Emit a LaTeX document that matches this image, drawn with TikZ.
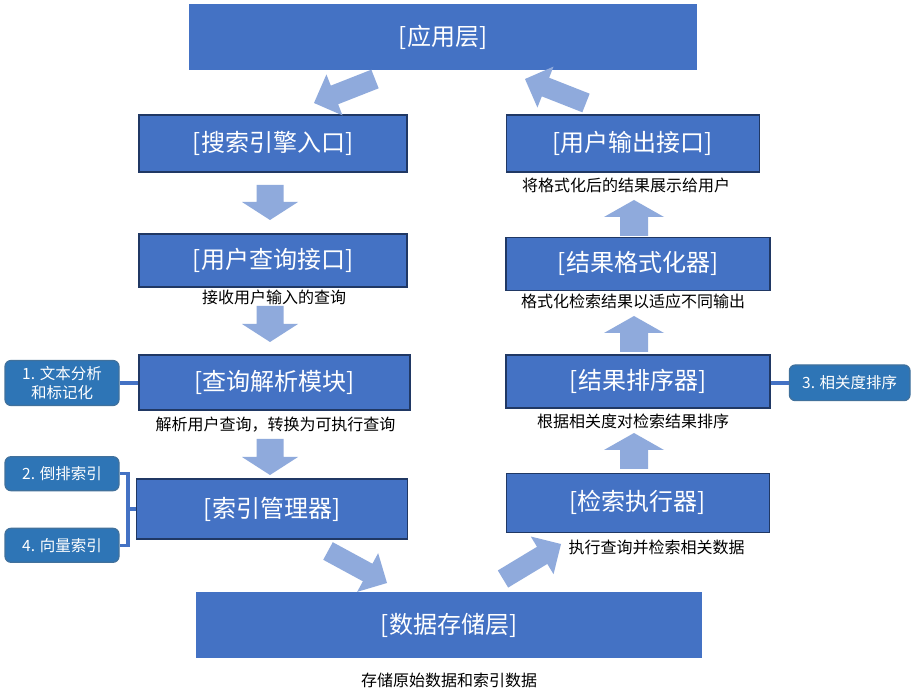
\documentclass[tikz,border=0pt]{standalone}
\usepackage{fontspec}
\setmainfont{Noto Sans CJK SC}
\usetikzlibrary{calc}
\definecolor{boxblue}{HTML}{4472C4}
\definecolor{boxedge}{HTML}{203864}
\definecolor{sideblue}{HTML}{2E75B6}
\definecolor{sideedge}{HTML}{41719C}
\definecolor{arrowblue}{HTML}{8FAADC}
% fat block arrow: tail, tip, shaft half width, head half width, head length
\newcommand\fatarrow[5]{%
  \coordinate (faB) at ($(#2)!#5!(#1)$);
  \fill[fatarrowstyle] ($(#1)!#3!90:(#2)$) -- ($(faB)!#3!-90:(#1)$) -- ($(faB)!#4!-90:(#1)$) -- (#2)
    -- ($(faB)!#4!90:(#1)$) -- ($(faB)!#3!90:(#1)$) -- ($(#1)!#3!-90:(#2)$) -- cycle;
}
\begin{document}
\begin{tikzpicture}[x=1pt,y=-1pt,
  mainbox/.style={draw=boxedge, line width=1.2pt, fill=boxblue, text=white,
    font=\fontsize{24}{28}\selectfont, inner sep=0pt},
  layerbox/.style={mainbox, draw=none},
  sidebox/.style={draw=sideedge, line width=1.2pt, fill=sideblue, rounded corners=6pt,
    text=white, font=\fontsize{15.5}{19}\selectfont, align=center, inner sep=0pt},
  caption/.style={font=\fontsize{16}{19}\selectfont, text=black, inner sep=0pt},
  link/.style={draw=boxblue, line width=3.5pt},
  fatarrowstyle/.style={fill=arrowblue}]
\useasboundingbox[fill=white] (0,0) rectangle (914,692);

% main boxes
\node[layerbox, minimum width=508pt, minimum height=66pt] (app) at (443,37) {[应用层]};
\node[mainbox, minimum width=268pt, minimum height=57pt] (entry) at (273,143.5) {[搜索引擎入口]};
\node[mainbox, minimum width=268pt, minimum height=53pt] (query) at (273,260.5) {[用户查询接口]};
\node[mainbox, minimum width=271pt, minimum height=55pt] (parse) at (274.5,382.5) {[查询解析模块]};
\node[mainbox, minimum width=271pt, minimum height=60pt] (index) at (272,509) {[索引管理器]};
\node[layerbox, minimum width=506pt, minimum height=66pt] (store) at (449,625) {[数据存储层]};
\node[mainbox, minimum width=263pt, minimum height=59pt] (exec) at (637.7,502.8) {[检索执行器]};
\node[mainbox, minimum width=264pt, minimum height=53pt] (rank) at (638,381.5) {[结果排序器]};
\node[mainbox, minimum width=264pt, minimum height=53pt] (format) at (638,263.7) {[结果格式化器]};
\node[mainbox, minimum width=253pt, minimum height=57pt] (output) at (632.7,143.5) {[用户输出接口]};

% captions
\node[caption] (c_output) at (626,185.5) {将格式化后的结果展示给用户};
\node[caption] (c_query) at (274,297.5) {接收用户输入的查询};
\node[caption] (c_parse) at (275.5,424.5) {解析用户查询，转换为可执行查询};
\node[caption] (c_format) at (633,301.5) {格式化检索结果以适应不同输出};
\node[caption] (c_rank) at (633,421) {根据相关度对检索结果排序};
\node[caption] (c_exec) at (656.7,547) {执行查询并检索相关数据};
\node[caption] (c_store) at (449,680.5) {存储原始数据和索引数据};

% side labels
\node[sidebox, minimum width=114pt, minimum height=45pt] (s1) at (62,383) {1. 文本分析\\和标记化};
\node[sidebox, minimum width=114pt, minimum height=34pt] (s2) at (62,473.7) {2. 倒排索引};
\node[sidebox, minimum width=114pt, minimum height=34pt] (s4) at (62,545.3) {4. 向量索引};
\node[sidebox, minimum width=120.7pt, minimum height=35.7pt] (s3) at (849.7,382.8) {3. 相关度排序};

% side connectors
\coordinate (brk) at (128,509);
\draw[link] (s1.east) -- (s1.east -| parse.west);
\draw[link] (s2.east) -- (s2.east -| brk) -- (s4.east -| brk) -- (s4.east);
\draw[link] (index.west -| brk) -- (index.west);
\draw[link] (s3.west -| rank.east) -- (s3.west);

% flow arrows (down, left column)
\coordinate (d1t) at (270,185); \coordinate (d1h) at (270,220);
\coordinate (d2t) at (270,306); \coordinate (d2h) at (270,342);
\coordinate (d3t) at (270,439); \coordinate (d3h) at (270,475);
\fatarrow{d1t}{d1h}{13.5pt}{28pt}{18pt}
\fatarrow{d2t}{d2h}{13.5pt}{28pt}{18pt}
\fatarrow{d3t}{d3h}{13.5pt}{28pt}{18pt}

% flow arrows (up, right column)
\coordinate (u1t) at (634,469); \coordinate (u1h) at (634,433);
\coordinate (u2t) at (634,352); \coordinate (u2h) at (634,316);
\coordinate (u3t) at (634,236); \coordinate (u3h) at (634,200);
\fatarrow{u1t}{u1h}{14pt}{30pt}{17pt}
\fatarrow{u2t}{u2h}{14pt}{30pt}{17pt}
\fatarrow{u3t}{u3h}{14pt}{30pt}{17pt}

% diagonal arrows
\coordinate (tlt) at (375,79); \coordinate (tlh) at (314,103);
\coordinate (trt) at (586,103); \coordinate (trh) at (525,79);
\coordinate (blt) at (328,551); \coordinate (blh) at (387,583);
\coordinate (brt) at (503,579); \coordinate (brh) at (561,544);
\fatarrow{tlt}{tlh}{10pt}{22pt}{22pt}
\fatarrow{trt}{trh}{10pt}{22pt}{22pt}
\fatarrow{blt}{blh}{10pt}{22pt}{22pt}
\fatarrow{brt}{brh}{10pt}{22pt}{22pt}
\end{tikzpicture}
\end{document}
